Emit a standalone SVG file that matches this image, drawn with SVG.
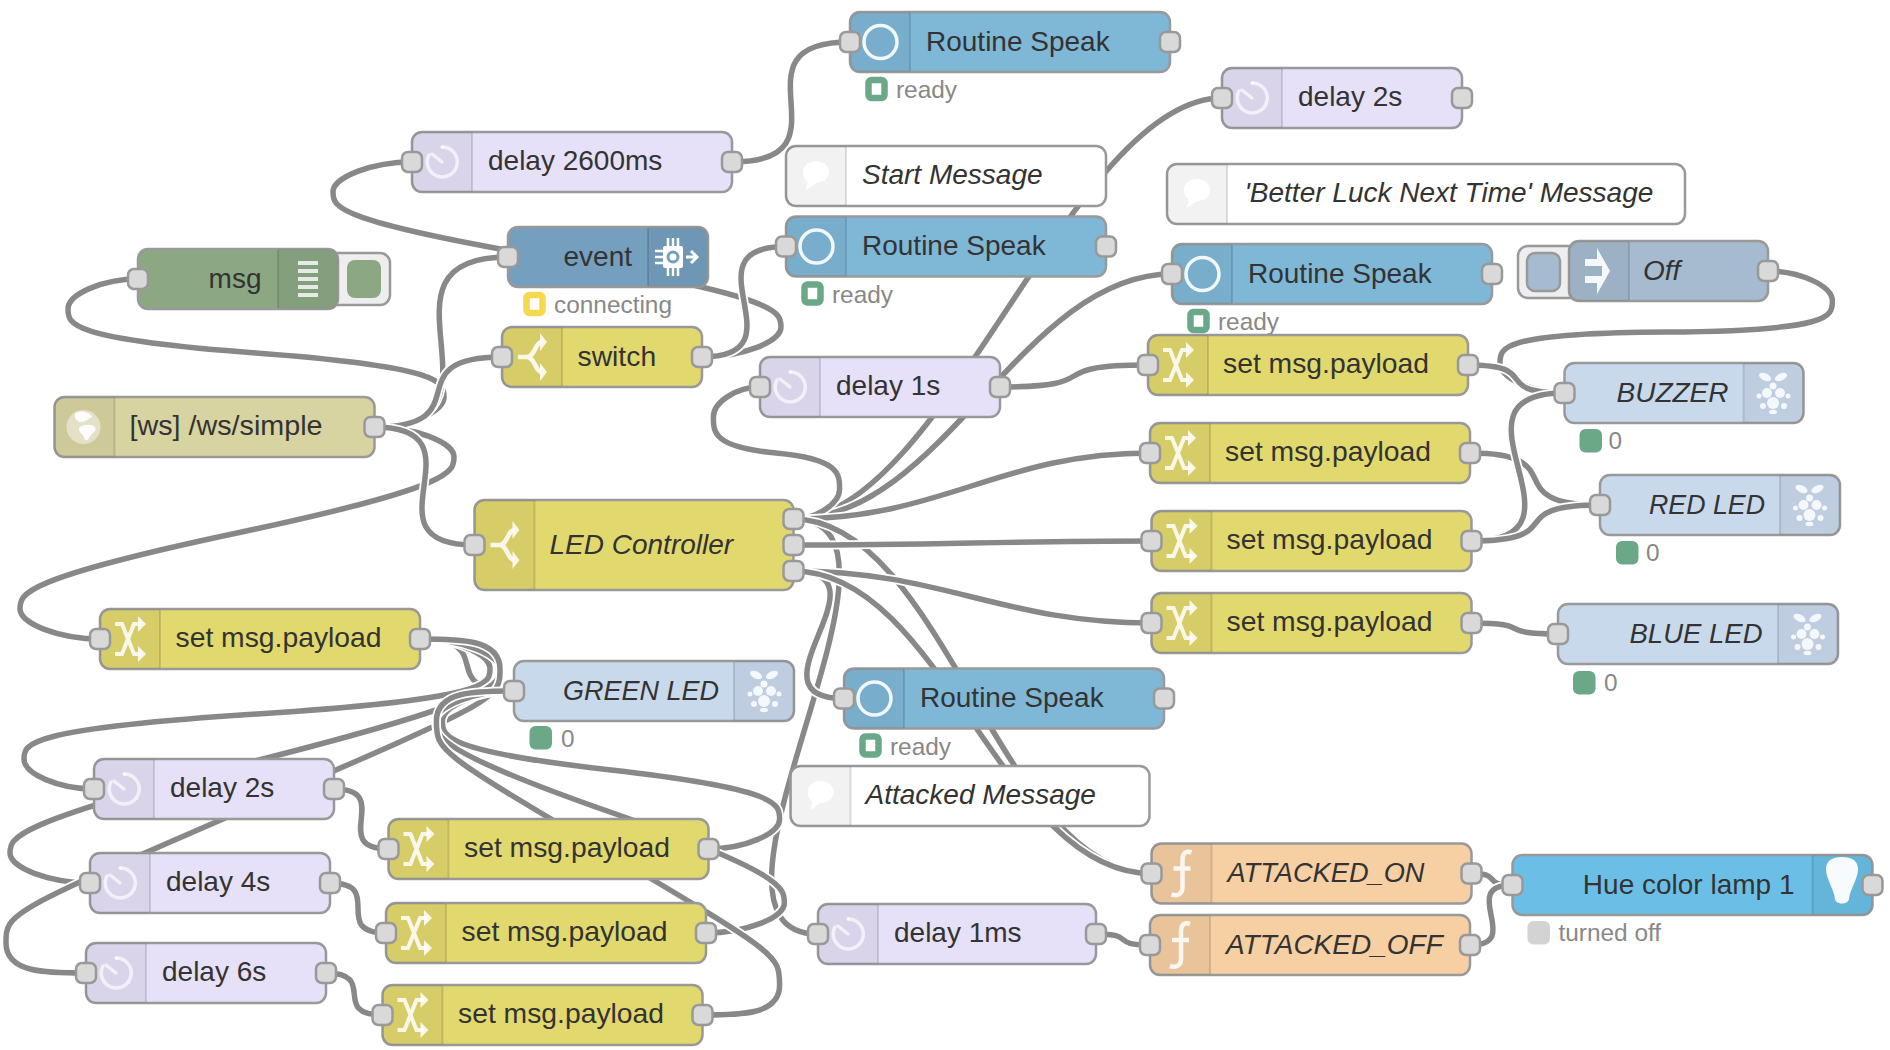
<svg xmlns="http://www.w3.org/2000/svg" xmlns:xlink="http://www.w3.org/1999/xlink" width="1890" height="1050" viewBox="0 0 1890 1050">
<style>
text{font-family:"Liberation Sans",Arial,sans-serif}
.bg{fill:#fff}
.b{stroke:#999;stroke-width:2.5}
.l{font-size:28px;fill:#333}
.sp{font-size:28.3px}
.i{font-style:italic}
.e{text-anchor:end}
.p{fill:#d9d9d9;stroke:#999;stroke-width:2.5}
.s{font-size:24.4px;fill:#888}
.o{fill:none;stroke:#fff;stroke-width:9}
.w{fill:none;stroke:#888;stroke-width:5.5}
.dl{fill:#e6e0f8}.rs{fill:#7fb7d6}.ch{fill:#e2d96e}.cm{fill:#fff}.ev{fill:#749fbf}.dbg{fill:#8ca883}.ws{fill:#d8d4a2}.rp{fill:#c9d9ec}.fn{fill:#f6cfa3}.hu{fill:#6bbfe6}.ij{fill:#a6bbcf}
.sg{fill:#fff;stroke:#6ba888;stroke-width:6.5}.sy{fill:#fff;stroke:#f5d94e;stroke-width:6.5}.sd{fill:#6ba888}.sl{fill:#d3d3d3}
</style>
<defs>
<g id="sl"><path d="M60 0H10A10 10 0 0 0 0 10V50A10 10 0 0 0 10 60H60z" fill="#000" fill-opacity=".05"/><path d="M60 1V59" stroke="#000" stroke-opacity=".12" stroke-width="2"/></g>
<g id="sr"><path d="M0 0H50A10 10 0 0 1 60 10V50A10 10 0 0 1 50 60H0z" fill="#000" fill-opacity=".05"/><path d="M0 1V59" stroke="#000" stroke-opacity=".12" stroke-width="2"/></g>
<g id="i-delay" fill="none" stroke="#fff" stroke-opacity=".65" stroke-width="3.5" stroke-linecap="round"><path d="M1 -15A15 15 0 1 1 -13 -7"/><path d="M0 0L-10 -8"/><path d="M0 -15L0.5 -15"/></g>
<g id="i-ring"><circle r="16.5" fill="none" stroke="#fff" stroke-opacity=".9" stroke-width="3.5"/></g>
<g id="i-change" fill="#fff" fill-opacity=".85"><path d="M-15 -15H-8L4 15H11M-15 15H-8L4 -15H11" fill="none" stroke="#fff" stroke-opacity=".85" stroke-width="4"/><path d="M8 -23L16 -15L8 -7zM8 7L16 15L8 23z"/></g>
<g id="i-switch" fill="#fff" fill-opacity=".85"><path d="M-14 0H-5C3 0 3 -15 10 -15M-5 0C3 0 3 15 10 15" fill="none" stroke="#fff" stroke-opacity=".85" stroke-width="4.5"/><path d="M8 -24L15 -15L8 -6zM8 6L15 15L8 24z"/></g>
<g id="i-chip" fill="#fff"><rect x="-10" y="-11" width="20" height="22" rx="2"/><path d="M-5 -19V-10M0 -19V-10M5 -19V-10M-5 10V19M0 10V19M5 10V19M-18 -6H-9M-18 0H-9M-18 6H-9" stroke="#fff" stroke-width="2.5"/><circle r="5" fill="none" stroke="#749fbf" stroke-width="3"/><path d="M13 0H23M18 -6L24 0L18 6" fill="none" stroke="#fff" stroke-width="3"/></g>
<g id="i-rasp" fill="#fff" fill-opacity=".85"><ellipse cx="-8" cy="-16" rx="6.5" ry="3.5" transform="rotate(25 -8 -16)"/><ellipse cx="8" cy="-16" rx="6.5" ry="3.5" transform="rotate(-25 8 -16)"/><circle cy="-7" r="3.5"/><circle cx="-6" cy="0" r="5"/><circle cx="7" cy="0" r="5"/><circle cy="10" r="6"/><circle cx="-14" cy="3" r="2.5"/><circle cx="15" cy="3" r="2.5"/><circle cx="-10" cy="13" r="3"/><circle cx="11" cy="13" r="3"/><ellipse cy="19" rx="4" ry="2.2"/></g>
<g id="i-bulb"><path d="M0 -28C10 -28 16 -24 16 -16C16 -6 8 4 7 14C6 20 -6 20 -7 14C-8 4 -16 -6 -16 -16C-16 -24 -10 -28 0 -28z" fill="#fff" fill-opacity=".95"/></g>
<g id="i-inject"><path fill-rule="evenodd" d="M-12 -12H0V-23L13 0L0 23V12H-12V5H5V-5H-12z" fill="#fff" fill-opacity=".9"/></g>
<g id="i-globe"><circle r="17" fill="#fff" fill-opacity=".45"/><path d="M-8 -14C-2 -17 6 -15 9 -10C3 -8 2 -4 -4 -5C-8 -7 -10 -10 -8 -14zM-4 0C2 -3 10 -3 12 1C13 5 8 6 6 10C4 15 1 14 0 9C-2 6 -6 4 -4 0z" fill="#fff" fill-opacity=".9"/></g>
<g id="i-bubble"><path d="M0 -13C8 -13 13 -8 13 -2C13 5 7 9 0 9C-1 9 -4 13 -11 16C-8 11 -8 8 -9 7C-12 5 -13 1 -13 -2C-13 -8 -8 -13 0 -13z" fill="#fff"/></g>
<g id="i-func" fill="none" stroke="#fff" stroke-opacity=".85" stroke-width="4.5"><path d="M10 -21C4 -23 1 -20 1 -14V14C1 20 -3 23 -10 21M-8 -5H9"/></g>
<g id="i-debug" fill="#fff" fill-opacity=".8"><rect x="-10" y="-18" width="20" height="4"/><rect x="-10" y="-10" width="20" height="4"/><rect x="-10" y="-2" width="20" height="4"/><rect x="-10" y="6" width="20" height="4"/><rect x="-10" y="14" width="20" height="4"/></g>
</defs>
<rect class="bg" width="1890" height="1050"/>
<g id="connectors">
<g><path class="o" d="M374 427C409 427 444 412 444 397S444 367 256 353S68 324 68 309S103 279 138 279"/><path class="w" d="M374 427C409 427 444 412 444 397S444 367 256 353S68 324 68 309S103 279 138 279"/></g>
<g><path class="o" d="M374 427C414 427 454 442 454 457S454 487 237 533S20 594 20 609S60 639 100 639"/><path class="w" d="M374 427C414 427 454 442 454 457S454 487 237 533S20 594 20 609S60 639 100 639"/></g>
<g><path class="o" d="M374 427C524 427 358 257 508 257"/><path class="w" d="M374 427C524 427 358 257 508 257"/></g>
<g><path class="o" d="M374 427C483 427 393 357 502 357"/><path class="w" d="M374 427C483 427 393 357 502 357"/></g>
<g><path class="o" d="M374 427C490 427 358 545 474 545"/><path class="w" d="M374 427C490 427 358 545 474 545"/></g>
<g><path class="o" d="M702 357C741.5 357 781 342 781 327S781 297 557 259S333 207 333 192S372.5 162 412 162"/><path class="w" d="M702 357C741.5 357 781 342 781 327S781 297 557 259S333 207 333 192S372.5 162 412 162"/></g>
<g><path class="o" d="M702 357C806 357 682 246.5 786 246.5"/><path class="w" d="M702 357C806 357 682 246.5 786 246.5"/></g>
<g><path class="o" d="M732 162C858 162 724 42 850 42"/><path class="w" d="M732 162C858 162 724 42 850 42"/></g>
<g><path class="o" d="M793 519C943 519 1072 98 1222 98"/><path class="w" d="M793 519C943 519 1072 98 1222 98"/></g>
<g><path class="o" d="M793 519C943 519 1022 274 1172 274"/><path class="w" d="M793 519C943 519 1022 274 1172 274"/></g>
<g><path class="o" d="M793 519C816.3 519 839.6 504 839.6 489S839.6 459 776 453S713.4 432 713.4 417S736.7 387 760 387"/><path class="w" d="M793 519C816.3 519 839.6 504 839.6 489S839.6 459 776 453S713.4 432 713.4 417S736.7 387 760 387"/></g>
<g><path class="o" d="M793 519C943 519 1000 453 1150 453"/><path class="w" d="M793 519C943 519 1000 453 1150 453"/></g>
<g><path class="o" d="M793 519C943 519 668 934 818 934"/><path class="w" d="M793 519C943 519 668 934 818 934"/></g>
<g><path class="o" d="M793 519C943 519 1001.5 873.5 1151.5 873.5"/><path class="w" d="M793 519C943 519 1001.5 873.5 1151.5 873.5"/></g>
<g><path class="o" d="M793 545C943 545 1001.5 541 1151.5 541"/><path class="w" d="M793 545C943 545 1001.5 541 1151.5 541"/></g>
<g><path class="o" d="M793 571C943 571 1001.5 623 1151.5 623"/><path class="w" d="M793 571C943 571 1001.5 623 1151.5 623"/></g>
<g><path class="o" d="M793 571C896 571 741 698.5 844 698.5"/><path class="w" d="M793 571C896 571 741 698.5 844 698.5"/></g>
<g><path class="o" d="M793 571C943 571 1001.5 873.5 1151.5 873.5"/><path class="w" d="M793 571C943 571 1001.5 873.5 1151.5 873.5"/></g>
<g><path class="o" d="M1000 387C1112 387 1036 365 1148 365"/><path class="w" d="M1000 387C1112 387 1036 365 1148 365"/></g>
<g><path class="o" d="M1768 271C1800.2 271 1832.4 286 1832.4 301S1832.4 331 1666 332S1500 348 1500 363S1532.3 393 1564.5 393"/><path class="w" d="M1768 271C1800.2 271 1832.4 286 1832.4 301S1832.4 331 1666 332S1500 348 1500 363S1532.3 393 1564.5 393"/></g>
<g><path class="o" d="M1468 365C1544 365 1488.5 393 1564.5 393"/><path class="w" d="M1468 365C1544 365 1488.5 393 1564.5 393"/></g>
<g><path class="o" d="M1470 453C1575 453 1495 505 1600 505"/><path class="w" d="M1470 453C1575 453 1495 505 1600 505"/></g>
<g><path class="o" d="M1471.5 541C1602.5 541 1433.5 393 1564.5 393"/><path class="w" d="M1471.5 541C1602.5 541 1433.5 393 1564.5 393"/></g>
<g><path class="o" d="M1471.5 541C1571.5 541 1500 505 1600 505"/><path class="w" d="M1471.5 541C1571.5 541 1500 505 1600 505"/></g>
<g><path class="o" d="M1471.5 623C1537.5 623 1492 634 1558 634"/><path class="w" d="M1471.5 623C1537.5 623 1492 634 1558 634"/></g>
<g><path class="o" d="M1471.5 873.5C1503.5 873.5 1480.5 885 1512.5 885"/><path class="w" d="M1471.5 873.5C1503.5 873.5 1480.5 885 1512.5 885"/></g>
<g><path class="o" d="M1470 945C1525 945 1457 885 1512.5 885"/><path class="w" d="M1470 945C1525 945 1457 885 1512.5 885"/></g>
<g><path class="o" d="M1096 934C1137 934 1109 945 1150 945"/><path class="w" d="M1096 934C1137 934 1109 945 1150 945"/></g>
<g><path class="o" d="M334 789C395 789 327.5 849 388.5 849"/><path class="w" d="M334 789C395 789 327.5 849 388.5 849"/></g>
<g><path class="o" d="M330 883C386 883 330 933 386 933"/><path class="w" d="M330 883C386 883 330 933 386 933"/></g>
<g><path class="o" d="M326 973C379 973 329.5 1015 382.5 1015"/><path class="w" d="M326 973C379 973 329.5 1015 382.5 1015"/></g>
<g><path class="o" d="M420 639C500.5 639 433.5 691 514 691"/><path class="w" d="M420 639C500.5 639 433.5 691 514 691"/></g>
<g><path class="o" d="M420 639C455 639 490 654 490 669S490 699 257 714S24 744 24 759S59 789 94 789"/><path class="w" d="M420 639C455 639 490 654 490 669S490 699 257 714S24 744 24 759S59 789 94 789"/></g>
<g><path class="o" d="M420 639C460 639 500 654 500 669S500 699 255 761S10 838 10 853S50 883 90 883"/><path class="w" d="M420 639C460 639 500 654 500 669S500 699 255 761S10 838 10 853S50 883 90 883"/></g>
<g><path class="o" d="M420 639C460 639 500 639 500 669S500 699 253 806S6 913 6 943S46 973 86 973"/><path class="w" d="M420 639C460 639 500 639 500 669S500 699 253 806S6 913 6 943S46 973 86 973"/></g>
<g><path class="o" d="M708 849C743.8 849 779.6 834 779.6 819S779.6 789 611 770S442.4 736 442.4 721S478.2 691 514 691"/><path class="w" d="M708 849C743.8 849 779.6 834 779.6 819S779.6 789 611 770S442.4 736 442.4 721S478.2 691 514 691"/></g>
<g><path class="o" d="M706 933C745.2 933 784.4 918 784.4 903S784.4 873 610 812S435.6 736 435.6 721S474.8 691 514 691"/><path class="w" d="M706 933C745.2 933 784.4 918 784.4 903S784.4 873 610 812S435.6 736 435.6 721S474.8 691 514 691"/></g>
<g><path class="o" d="M702 1015C740.8 1015 779.6 1015 779.6 985S779.6 955 608 853S436.4 751 436.4 721S475.2 691 514 691"/><path class="w" d="M702 1015C740.8 1015 779.6 1015 779.6 985S779.6 955 608 853S436.4 751 436.4 721S475.2 691 514 691"/></g>
</g>
<g id="n-rs1" transform="translate(850,12)"><rect class="b rs" width="320" height="60" rx="10"/><use href="#sl"/><use href="#i-ring" x="30.5" y="30"/><text class="l" x="76" y="38.5">Routine Speak</text><rect class="p" x="-10" y="20" width="20" height="20" rx="6"/><rect class="p" x="310" y="20" width="20" height="20" rx="6"/><rect class="sg" x="18.5" y="68" width="16" height="18" rx="3"/><text class="s" x="46" y="86">ready</text></g>
<g id="n-delay2s-top" transform="translate(1222,68)"><rect class="b dl" width="240" height="60" rx="10"/><use href="#sl"/><use href="#i-delay" x="30" y="30"/><text class="l" x="76" y="38">delay 2s</text><rect class="p" x="-10" y="20" width="20" height="20" rx="6"/><rect class="p" x="230" y="20" width="20" height="20" rx="6"/></g>
<g id="n-delay2600" transform="translate(412,132)"><rect class="b dl" width="320" height="60" rx="10"/><use href="#sl"/><use href="#i-delay" x="30" y="30"/><text class="l" x="76" y="38">delay 2600ms</text><rect class="p" x="-10" y="20" width="20" height="20" rx="6"/><rect class="p" x="310" y="20" width="20" height="20" rx="6"/></g>
<g id="n-start" transform="translate(786,146)"><rect class="b cm" width="320" height="60" rx="10"/><use href="#sl"/><use href="#i-bubble" x="30" y="28"/><text class="l i" x="76" y="38">Start Message</text></g>
<g id="n-better" transform="translate(1167,164)"><rect class="b cm" width="518" height="60" rx="10"/><use href="#sl"/><use href="#i-bubble" x="30" y="28"/><text class="l i" x="77.5" y="38">'Better Luck Next Time' Message</text></g>
<g id="n-event" transform="translate(508,227)"><rect class="b ev" width="200" height="60" rx="10"/><use href="#sr" x="140"/><use href="#i-chip" x="165" y="30"/><text class="l e" x="124" y="38.5">event</text><rect class="p" x="-10" y="20" width="20" height="20" rx="6"/><rect class="sy" x="18.5" y="68" width="16" height="18" rx="3"/><text class="s" x="46" y="86">connecting</text></g>
<g id="n-rs2" transform="translate(786,216.5)"><rect class="b rs" width="320" height="60" rx="10"/><use href="#sl"/><use href="#i-ring" x="30.5" y="30"/><text class="l" x="76" y="38.5">Routine Speak</text><rect class="p" x="-10" y="20" width="20" height="20" rx="6"/><rect class="p" x="310" y="20" width="20" height="20" rx="6"/><rect class="sg" x="18.5" y="68" width="16" height="18" rx="3"/><text class="s" x="46" y="86">ready</text></g>
<g id="n-rs3" transform="translate(1172,244)"><rect class="b rs" width="320" height="60" rx="10"/><use href="#sl"/><use href="#i-ring" x="30.5" y="30"/><text class="l" x="76" y="38.5">Routine Speak</text><rect class="p" x="-10" y="20" width="20" height="20" rx="6"/><rect class="p" x="310" y="20" width="20" height="20" rx="6"/><rect class="sg" x="18.5" y="68" width="16" height="18" rx="3"/><text class="s" x="46" y="86">ready</text></g>
<g id="n-off" transform="translate(1569,241)"><rect x="-51" y="5" width="70" height="52" rx="10" fill="#eee" stroke="#999" stroke-width="2.5"/><rect x="-42" y="12" width="33" height="38" rx="8" class="b ij"/><rect class="b ij" width="199" height="60" rx="10"/><use href="#sl"/><use href="#i-inject" x="28" y="30"/><text class="l i" x="74" y="38.5">Off</text><rect class="p" x="189" y="20" width="20" height="20" rx="6"/></g>
<g id="n-msg" transform="translate(138,249)"><rect x="180" y="4" width="72" height="52" rx="10" fill="#eee" stroke="#999" stroke-width="2.5"/><rect x="209" y="11" width="34" height="38" rx="8" class="dbg"/><rect class="b dbg" width="200" height="60" rx="10"/><use href="#sr" x="140"/><use href="#i-debug" x="170" y="30"/><text class="l e" x="123.5" y="38.5">msg</text><rect class="p" x="-10" y="20" width="20" height="20" rx="6"/></g>
<g id="n-switch" transform="translate(502,327)"><rect class="b ch" width="200" height="60" rx="10"/><use href="#sl"/><use href="#i-switch" x="30" y="30"/><text class="l sp" x="75.5" y="38.5">switch</text><rect class="p" x="-10" y="20" width="20" height="20" rx="6"/><rect class="p" x="190" y="20" width="20" height="20" rx="6"/></g>
<g id="n-set1" transform="translate(1148,335)"><rect class="b ch" width="320" height="60" rx="10"/><use href="#sl"/><use href="#i-change" x="30" y="30"/><text class="l sp" x="75" y="38">set msg.payload</text><rect class="p" x="-10" y="20" width="20" height="20" rx="6"/><rect class="p" x="310" y="20" width="20" height="20" rx="6"/></g>
<g id="n-delay1s" transform="translate(760,357)"><rect class="b dl" width="240" height="60" rx="10"/><use href="#sl"/><use href="#i-delay" x="30" y="30"/><text class="l" x="76" y="38">delay 1s</text><rect class="p" x="-10" y="20" width="20" height="20" rx="6"/><rect class="p" x="230" y="20" width="20" height="20" rx="6"/></g>
<g id="n-buzzer" transform="translate(1564.5,363)"><rect class="b rp" width="239" height="60" rx="10"/><use href="#sr" x="179"/><use href="#i-rasp" x="208.5" y="30"/><text class="l i e" x="164" y="38.5">BUZZER</text><rect class="p" x="-10" y="20" width="20" height="20" rx="6"/><rect class="sd" x="15" y="66" width="22.5" height="23.5" rx="6"/><text class="s" x="44" y="86">0</text></g>
<g id="n-ws" transform="translate(54.5,397)"><rect class="b ws" width="320" height="60" rx="10"/><use href="#sl"/><use href="#i-globe" x="29" y="30"/><text class="l" x="75" y="38" textLength="193" lengthAdjust="spacingAndGlyphs">[ws] /ws/simple</text><rect class="p" x="310" y="20" width="20" height="20" rx="6"/></g>
<g id="n-set2" transform="translate(1150,423)"><rect class="b ch" width="320" height="60" rx="10"/><use href="#sl"/><use href="#i-change" x="30" y="30"/><text class="l sp" x="75" y="38">set msg.payload</text><rect class="p" x="-10" y="20" width="20" height="20" rx="6"/><rect class="p" x="310" y="20" width="20" height="20" rx="6"/></g>
<g id="n-red" transform="translate(1600,475)"><rect class="b rp" width="240" height="60" rx="10"/><use href="#sr" x="180"/><use href="#i-rasp" x="209.5" y="30"/><text class="l i e" x="165" y="38.5" textLength="116" lengthAdjust="spacingAndGlyphs">RED LED</text><rect class="p" x="-10" y="20" width="20" height="20" rx="6"/><rect class="sd" x="16" y="66" width="22.5" height="23.5" rx="6"/><text class="s" x="46" y="86">0</text></g>
<g id="n-led" transform="translate(474.5,500)"><rect class="b ch" width="319" height="90" rx="10"/><path d="M60 0H10A10 10 0 0 0 0 10V80A10 10 0 0 0 10 90H60z" fill="#000" fill-opacity=".05"/><path d="M60 1V89" stroke="#000" stroke-opacity=".12" stroke-width="2"/><use href="#i-switch" x="30" y="45"/><text class="l i" x="75" y="53.5">LED Controller</text><rect class="p" x="-10" y="35" width="20" height="20" rx="6"/><rect class="p" x="309" y="9" width="20" height="20" rx="6"/><rect class="p" x="309" y="35" width="20" height="20" rx="6"/><rect class="p" x="309" y="61" width="20" height="20" rx="6"/></g>
<g id="n-set3" transform="translate(1151.5,511)"><rect class="b ch" width="320" height="60" rx="10"/><use href="#sl"/><use href="#i-change" x="30" y="30"/><text class="l sp" x="75" y="38">set msg.payload</text><rect class="p" x="-10" y="20" width="20" height="20" rx="6"/><rect class="p" x="310" y="20" width="20" height="20" rx="6"/></g>
<g id="n-set4" transform="translate(1151.5,593)"><rect class="b ch" width="320" height="60" rx="10"/><use href="#sl"/><use href="#i-change" x="30" y="30"/><text class="l sp" x="75" y="38">set msg.payload</text><rect class="p" x="-10" y="20" width="20" height="20" rx="6"/><rect class="p" x="310" y="20" width="20" height="20" rx="6"/></g>
<g id="n-blue" transform="translate(1558,604)"><rect class="b rp" width="280" height="60" rx="10"/><use href="#sr" x="220"/><use href="#i-rasp" x="249.5" y="30"/><text class="l i e" x="204.5" y="38.5" textLength="133" lengthAdjust="spacingAndGlyphs">BLUE LED</text><rect class="p" x="-10" y="20" width="20" height="20" rx="6"/><rect class="sd" x="15" y="67" width="22.5" height="23.5" rx="6"/><text class="s" x="46" y="87">0</text></g>
<g id="n-settl" transform="translate(100,609)"><rect class="b ch" width="320" height="60" rx="10"/><use href="#sl"/><use href="#i-change" x="30" y="30"/><text class="l sp" x="75.5" y="38">set msg.payload</text><rect class="p" x="-10" y="20" width="20" height="20" rx="6"/><rect class="p" x="310" y="20" width="20" height="20" rx="6"/></g>
<g id="n-rs4" transform="translate(844,668.5)"><rect class="b rs" width="320" height="60" rx="10"/><use href="#sl"/><use href="#i-ring" x="30.5" y="30"/><text class="l" x="76" y="38.5">Routine Speak</text><rect class="p" x="-10" y="20" width="20" height="20" rx="6"/><rect class="p" x="310" y="20" width="20" height="20" rx="6"/><rect class="sg" x="18.5" y="68" width="16" height="18" rx="3"/><text class="s" x="46" y="86">ready</text></g>
<g id="n-green" transform="translate(514,661)"><rect class="b rp" width="280" height="60" rx="10"/><use href="#sr" x="220"/><use href="#i-rasp" x="250" y="30"/><text class="l i e" x="205" y="38.5" textLength="156" lengthAdjust="spacingAndGlyphs">GREEN LED</text><rect class="p" x="-10" y="20" width="20" height="20" rx="6"/><rect class="sd" x="15.5" y="65" width="22.5" height="23.5" rx="6"/><text class="s" x="47" y="86">0</text></g>
<g id="n-delay2s" transform="translate(94,759)"><rect class="b dl" width="240" height="60" rx="10"/><use href="#sl"/><use href="#i-delay" x="30" y="30"/><text class="l" x="76" y="38">delay 2s</text><rect class="p" x="-10" y="20" width="20" height="20" rx="6"/><rect class="p" x="230" y="20" width="20" height="20" rx="6"/></g>
<g id="n-attacked" transform="translate(790.5,766)"><rect class="b cm" width="359" height="60" rx="10"/><use href="#sl"/><use href="#i-bubble" x="30" y="28"/><text class="l i" x="75" y="38">Attacked Message</text></g>
<g id="n-seta" transform="translate(388.5,819)"><rect class="b ch" width="320" height="60" rx="10"/><use href="#sl"/><use href="#i-change" x="30" y="30"/><text class="l sp" x="75.5" y="38">set msg.payload</text><rect class="p" x="-10" y="20" width="20" height="20" rx="6"/><rect class="p" x="310" y="20" width="20" height="20" rx="6"/></g>
<g id="n-aon" transform="translate(1151.5,843.5)"><rect class="b fn" width="320" height="60" rx="10"/><use href="#sl"/><use href="#i-func" x="30" y="30"/><text class="l i" x="76" y="38.5" textLength="197" lengthAdjust="spacingAndGlyphs">ATTACKED_ON</text><rect class="p" x="-10" y="20" width="20" height="20" rx="6"/><rect class="p" x="310" y="20" width="20" height="20" rx="6"/></g>
<g id="n-delay4s" transform="translate(90,853)"><rect class="b dl" width="240" height="60" rx="10"/><use href="#sl"/><use href="#i-delay" x="30" y="30"/><text class="l" x="76" y="38">delay 4s</text><rect class="p" x="-10" y="20" width="20" height="20" rx="6"/><rect class="p" x="230" y="20" width="20" height="20" rx="6"/></g>
<g id="n-hue" transform="translate(1512.5,855)"><rect class="b hu" width="360" height="60" rx="10"/><use href="#sr" x="300"/><use href="#i-bulb" x="329.5" y="30"/><text class="l e" x="282" y="38.5">Hue color lamp 1</text><rect class="p" x="-10" y="20" width="20" height="20" rx="6"/><rect class="p" x="350" y="20" width="20" height="20" rx="6"/><rect class="sl" x="15" y="66" width="22.5" height="23.5" rx="6"/><text class="s" x="46" y="86">turned off</text></g>
<g id="n-setb" transform="translate(386,903)"><rect class="b ch" width="320" height="60" rx="10"/><use href="#sl"/><use href="#i-change" x="30" y="30"/><text class="l sp" x="75.5" y="38">set msg.payload</text><rect class="p" x="-10" y="20" width="20" height="20" rx="6"/><rect class="p" x="310" y="20" width="20" height="20" rx="6"/></g>
<g id="n-delay1ms" transform="translate(818,904)"><rect class="b dl" width="278" height="60" rx="10"/><use href="#sl"/><use href="#i-delay" x="30" y="30"/><text class="l" x="76" y="38">delay 1ms</text><rect class="p" x="-10" y="20" width="20" height="20" rx="6"/><rect class="p" x="268" y="20" width="20" height="20" rx="6"/></g>
<g id="n-aoff" transform="translate(1150,915)"><rect class="b fn" width="320" height="60" rx="10"/><use href="#sl"/><use href="#i-func" x="30" y="30"/><text class="l i" x="76" y="38.5">ATTACKED_OFF</text><rect class="p" x="-10" y="20" width="20" height="20" rx="6"/><rect class="p" x="310" y="20" width="20" height="20" rx="6"/></g>
<g id="n-delay6s" transform="translate(86,943)"><rect class="b dl" width="240" height="60" rx="10"/><use href="#sl"/><use href="#i-delay" x="30" y="30"/><text class="l" x="76" y="38">delay 6s</text><rect class="p" x="-10" y="20" width="20" height="20" rx="6"/><rect class="p" x="230" y="20" width="20" height="20" rx="6"/></g>
<g id="n-setc" transform="translate(382.5,985)"><rect class="b ch" width="320" height="60" rx="10"/><use href="#sl"/><use href="#i-change" x="30" y="30"/><text class="l sp" x="75.5" y="38">set msg.payload</text><rect class="p" x="-10" y="20" width="20" height="20" rx="6"/><rect class="p" x="310" y="20" width="20" height="20" rx="6"/></g>
</svg>
